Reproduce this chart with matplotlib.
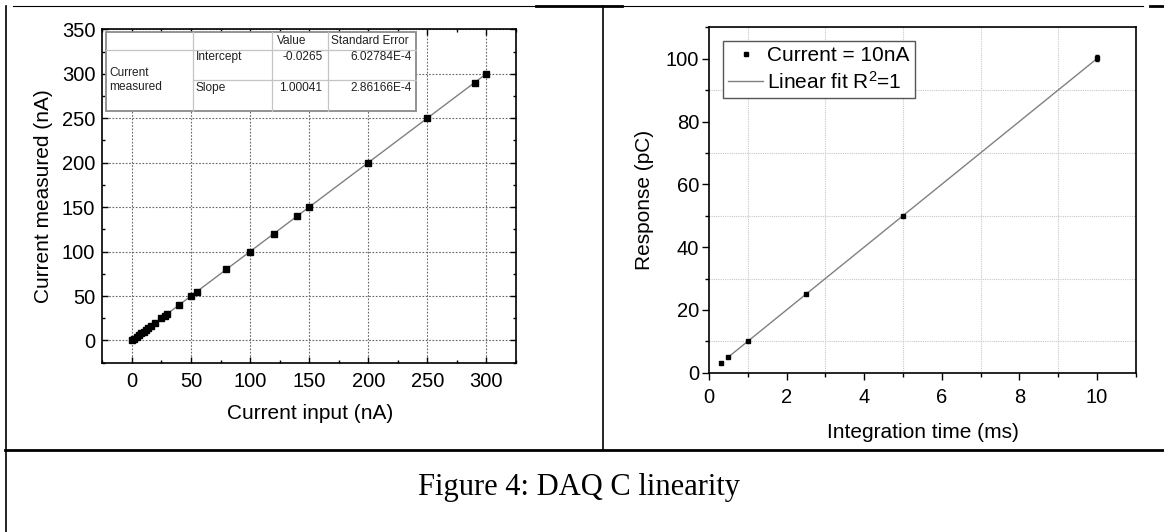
import matplotlib
matplotlib.use('Agg')
import matplotlib.pyplot as plt
from matplotlib.lines import Line2D
from matplotlib.patches import Rectangle
from matplotlib.ticker import MultipleLocator

plt.rcParams['font.family'] = ['Liberation Sans', 'DejaVu Sans']
plt.rcParams['mathtext.fontset'] = 'custom'
plt.rcParams['mathtext.rm'] = 'Liberation Sans'
plt.rcParams['mathtext.it'] = 'Liberation Sans:italic'

# ---------------- data ----------------
current_input = [0, 2, 4, 6, 8, 10, 12, 14, 16, 20, 25, 28, 30, 40, 50, 55,
                 80, 100, 120, 140, 150, 200, 250, 290, 300]
current_measured = [0, 2, 4, 6, 8, 10, 12, 14, 16, 20, 25, 28, 30, 40, 50, 55,
                    80, 100, 120, 140, 150, 200, 250, 290, 300]
fit_intercept = -0.0265
fit_slope = 1.00041
fit_input = [0, 300]

table_params = ['Intercept', 'Slope']
table_values = ['-0.0265', '1.00041']
table_errors = ['6.02784E-4', '2.86166E-4']

integration_time = [0.3, 0.5, 1, 2.5, 5, 10]
response = [3.0, 5.0, 10.0, 25.0, 50.0, 100.2]
response_err = [0.1, 0.1, 0.15, 0.2, 0.3, 0.9]
fit_time = [0.5, 10]
fit_response = [5.0, 100.0]

W, H = 1164, 532
fig = plt.figure(figsize=(W / 100, H / 100), dpi=100)


def px_rect(l, t, r, b):
    return [l / W, 1 - b / H, (r - l) / W, (b - t) / H]


# ---------------- page borders / caption ----------------
axo = fig.add_axes([0, 0, 1, 1], zorder=-1)
axo.set_xlim(0, W)
axo.set_ylim(H, 0)
axo.axis('off')
axo.plot([13, 1143], [5.7, 5.7], color='black', lw=0.8)
axo.plot([536, 622], [5.7, 5.7], color='black', lw=2)
axo.plot([1150, 1164], [5.7, 5.7], color='black', lw=2)
axo.plot([5.5, 5.5], [6, 532], color='black', lw=1.2)
axo.plot([603, 603], [6, 450], color='black', lw=1.2)
axo.plot([5, 1164], [450, 450], color='black', lw=2)
axo.text(579, 487, 'Figure 4: DAQ C linearity', family=['Liberation Serif', 'DejaVu Serif'],
         fontsize=22, ha='center', va='center')

# ---------------- left plot ----------------
L, T, R, B = 102.3, 29.3, 516, 362.7
ax1 = fig.add_axes(px_rect(L, T, R, B))
fit_measured = [fit_intercept + fit_slope * v for v in fit_input]
ax1.plot(fit_input, fit_measured, color='#808080', lw=1, zorder=3)
ax1.plot(current_input, current_measured, 's', color='black', ms=5, zorder=4)
ax1.set_xlim(-25, 325)
ax1.set_ylim(-25, 350)
ax1.xaxis.set_major_locator(MultipleLocator(50))
ax1.xaxis.set_minor_locator(MultipleLocator(25))
ax1.yaxis.set_major_locator(MultipleLocator(50))
ax1.yaxis.set_minor_locator(MultipleLocator(25))
ax1.tick_params(which='both', direction='in', top=True, right=True, width=1, labelsize=14.5)
ax1.tick_params(which='major', length=4.5)
ax1.tick_params(which='minor', length=2.5)
ax1.tick_params(axis='x', pad=7)
ax1.tick_params(axis='y', pad=5)
ax1.grid(which='major', color='#666666', ls=(0, (1.5, 1.5)), lw=0.8, zorder=1)
for s in ax1.spines.values():
    s.set_linewidth(1.2)
ax1.set_xlabel('Current input (nA)', fontsize=15)
ax1.set_ylabel('Current measured (nA)', fontsize=15)
ax1.xaxis.set_label_coords(0.502, -0.124)
ax1.yaxis.set_label_coords(-0.119, 0.5)


def fx(px):
    return (px - L) / (R - L)


def fy(py):
    return (B - py) / (B - T)


tr = ax1.transAxes
tl, tt, trr, tb = 105.7, 32.3, 415.7, 111
ax1.add_patch(Rectangle((fx(tl), fy(tb)), fx(trr) - fx(tl), fy(tt) - fy(tb),
                        transform=tr, facecolor='white', edgecolor='#8a8a8a',
                        lw=1.3, zorder=5, clip_on=False))
inner = dict(color='#c4c4c4', lw=0.9, zorder=6, transform=tr, clip_on=False)
for cx in [193.3, 272.3, 328.3]:
    ax1.add_line(Line2D([fx(cx), fx(cx)], [fy(tt), fy(tb)], **inner))
ax1.add_line(Line2D([fx(tl), fx(trr)], [fy(50), fy(50)], **inner))
ax1.add_line(Line2D([fx(193.3), fx(trr)], [fy(80), fy(80)], **inner))
tk = dict(transform=tr, fontsize=8.6, va='center', zorder=7, color='#222222')
ax1.text(fx(276.7), fy(41), 'Value', ha='left', **tk)
ax1.text(fx(331.5), fy(41), 'Standard Error', ha='left', **tk)
ax1.text(fx(109), fy(73), 'Current', ha='left', **tk)
ax1.text(fx(109), fy(87.5), 'measured', ha='left', **tk)
for i, rowy in enumerate([57, 88.3]):
    ax1.text(fx(195.5), fy(rowy), table_params[i], ha='left', **tk)
    ax1.text(fx(322.5), fy(rowy), table_values[i], ha='right', **tk)
    ax1.text(fx(411.5), fy(rowy), table_errors[i], ha='right', **tk)

# ---------------- right plot ----------------
L2, T2, R2, B2 = 709, 27.3, 1135.7, 372.7
ax2 = fig.add_axes(px_rect(L2, T2, R2, B2))
ax2.plot(fit_time, fit_response, color='#808080', lw=1, zorder=3)
ax2.errorbar(integration_time, response, yerr=response_err, fmt='s', color='black',
             ms=3, capsize=1.5, elinewidth=0.8, zorder=4)
ax2.set_xlim(0, 11)
ax2.set_ylim(0, 110)
ax2.xaxis.set_major_locator(MultipleLocator(2))
ax2.xaxis.set_minor_locator(MultipleLocator(1))
ax2.yaxis.set_major_locator(MultipleLocator(20))
ax2.yaxis.set_minor_locator(MultipleLocator(10))
ax2.tick_params(which='both', direction='out', width=1, labelsize=14.5)
ax2.tick_params(which='major', length=5)
ax2.tick_params(which='minor', length=3)
ax2.tick_params(axis='x', pad=6)
ax2.tick_params(axis='y', pad=2)
ax2.grid(which='minor', color='#c8c8c8', ls=(0, (1, 1)), lw=0.8, zorder=1)
for s in ax2.spines.values():
    s.set_linewidth(1.2)
ax2.set_xlabel('Integration time (ms)', fontsize=15)
ax2.set_ylabel('Response (pC)', fontsize=15)
ax2.xaxis.set_label_coords(0.501, -0.146)
ax2.yaxis.set_label_coords(-0.129, 0.5)

h1 = Line2D([], [], ls='none', marker='s', color='black', ms=3)
h2 = Line2D([], [], color='#808080', lw=1)
leg = ax2.legend([h1, h2], ['Current = 10nA', 'Linear fit R$^2$=1'], loc='upper left',
                 bbox_to_anchor=(0.032, 0.960), borderaxespad=0, fancybox=False,
                 edgecolor='#555555', framealpha=1, fontsize=15, handlelength=1.7,
                 handletextpad=0.2, borderpad=0.25, labelspacing=0.25)
leg.get_frame().set_linewidth(1.0)

fig.savefig('out.png', dpi=100)
